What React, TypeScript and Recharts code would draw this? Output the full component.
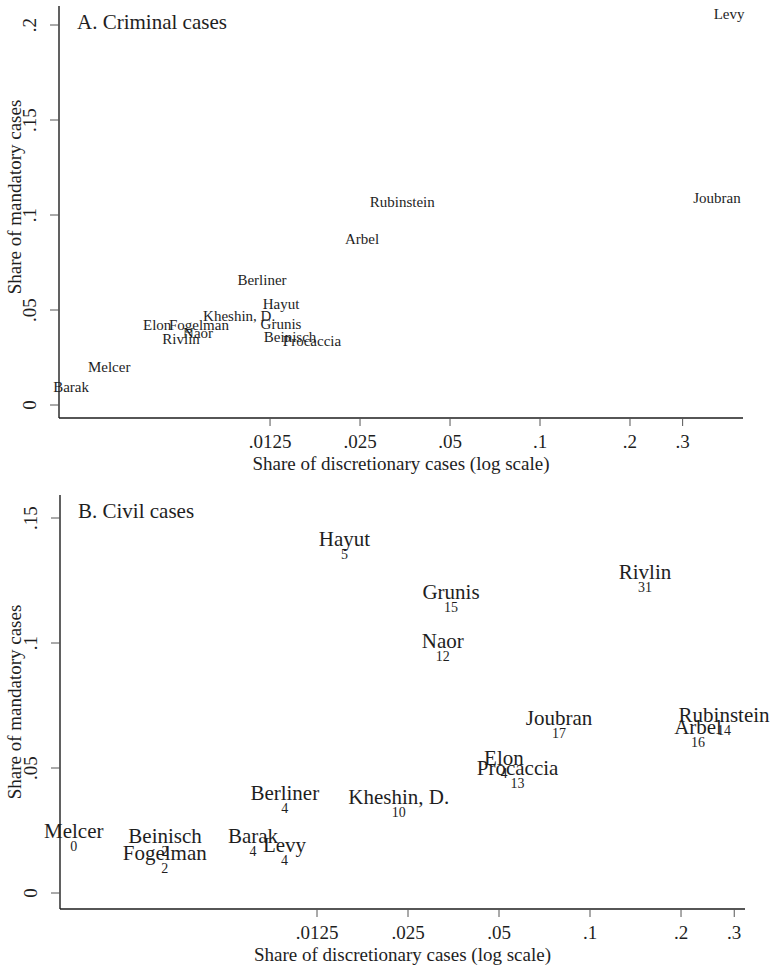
import { ScatterChart, Scatter, XAxis, YAxis, Label } from 'recharts';

// Panel A: criminal cases
const judgesA = ['Levy', 'Joubran', 'Rubinstein', 'Arbel', 'Berliner', 'Hayut', 'Kheshin, D.', 'Grunis', 'Elon', 'Fogelman', 'Naor', 'Rivlin', 'Beinisch', 'Procaccia', 'Melcer', 'Barak'];
const discA = [0.429, 0.391, 0.0346, 0.0254, 0.01175, 0.0136, 0.00985, 0.0136, 0.00524, 0.00723, 0.00718, 0.0063, 0.01459, 0.01727, 0.00362, 0.0027];
const mandA = [0.2058, 0.109, 0.1068, 0.0874, 0.0658, 0.0532, 0.0468, 0.0426, 0.0421, 0.0421, 0.0379, 0.0347, 0.0358, 0.0337, 0.02, 0.0095];

// Panel B: civil cases (name + number of cases)
const judgesB = ['Hayut', 'Rivlin', 'Grunis', 'Naor', 'Joubran', 'Rubinstein', 'Arbel', 'Elon', 'Procaccia', 'Kheshin, D.', 'Berliner', 'Melcer', 'Beinisch', 'Fogelman', 'Barak', 'Levy'];
const discB = [0.0154, 0.152, 0.0347, 0.0326, 0.079, 0.2776, 0.2277, 0.0519, 0.0576, 0.0233, 0.00978, 0.00196, 0.00393, 0.00392, 0.00768, 0.00976];
const mandB = [0.1416, 0.1284, 0.1204, 0.1008, 0.07, 0.0712, 0.0664, 0.054, 0.05, 0.0384, 0.04, 0.0248, 0.0228, 0.016, 0.0228, 0.0192];
const casesB = [5, 31, 15, 12, 17, 14, 16, 4, 13, 10, 4, 0, 2, 2, 4, 4];

const xTicks = [0.0125, 0.025, 0.05, 0.1, 0.2, 0.3];
const yTicksA = [0, 0.05, 0.1, 0.15, 0.2];
const yTicksB = [0, 0.05, 0.1, 0.15];

const dataA = judgesA.map((name, i) => ({ name, x: discA[i], y: mandA[i] }));
const dataB = judgesB.map((name, i) => ({ name, x: discB[i], y: mandB[i], n: casesB[i] }));

const FONT = '"Liberation Serif", "Times New Roman", serif';
const INK = '#1e1e1e';

const fmt = (v: number) => String(v).replace(/^0\./, '.');

function XTick({ x, y, payload }: any) {
  return (
    <text x={x} y={y} dy={20} textAnchor="middle" fontFamily={FONT} fontSize={19} fill={INK}>
      {fmt(payload.value)}
    </text>
  );
}

function YTick({ x, y, payload }: any) {
  const tx = x - 12;
  return (
    <text x={tx} y={y} transform={`rotate(-90, ${tx}, ${y})`} textAnchor="middle" fontFamily={FONT} fontSize={19} fill={INK}>
      {fmt(payload.value)}
    </text>
  );
}

interface PanelProps {
  data: { name: string; x: number; y: number; n?: number }[];
  title: string;
  height: number;
  top: number;
  margin: { top: number; right: number; left: number; bottom: number };
  yWidth: number;
  xHeight: number;
  xDomain: [number, number];
  yDomain: [number, number];
  yTicks: number[];
  labelSize: number;
  yTitleShift: number;
}

function Panel({ data, title, height, top, margin, yWidth, xHeight, xDomain, yDomain, yTicks, labelSize, yTitleShift }: PanelProps) {
  const renderLabel = (props: any) => {
    const { cx, cy, payload } = props;
    return (
      <g>
        <text x={cx} y={cy} textAnchor="middle" dominantBaseline="central" fontFamily={FONT} fontSize={labelSize} fill={INK}>
          {payload.name}
        </text>
        {payload.n !== undefined && (
          <text x={cx} y={cy + 15} textAnchor="middle" dominantBaseline="central" fontFamily={FONT} fontSize={14} fill={INK}>
            {payload.n}
          </text>
        )}
      </g>
    );
  };

  return (
    <div style={{ position: 'absolute', left: 0, top }}>
      <ScatterChart width={774} height={height} margin={margin}>
        <XAxis
          dataKey="x"
          type="number"
          scale="log"
          domain={xDomain}
          ticks={xTicks}
          tick={<XTick />}
          tickSize={8}
          tickLine={{ stroke: '#555' }}
          axisLine={{ stroke: INK, strokeWidth: 1.4 }}
          height={xHeight}
          interval={0}
        >
          <Label
            content={(p: any) => {
              const vb = p.viewBox;
              return (
                <text x={vb.x + vb.width / 2} y={vb.y + 52} textAnchor="middle" fontFamily={FONT} fontSize={19} fill={INK}>
                  Share of discretionary cases (log scale)
                </text>
              );
            }}
          />
        </XAxis>
        <XAxis xAxisId="top" orientation="top" type="number" scale="log" domain={xDomain} height={0} tick={false} tickLine={false} axisLine={{ stroke: '#777' }} />
        <YAxis
          dataKey="y"
          type="number"
          domain={yDomain}
          ticks={yTicks}
          tick={<YTick />}
          tickSize={9}
          tickLine={{ stroke: '#555' }}
          axisLine={{ stroke: INK, strokeWidth: 1.4 }}
          width={yWidth}
          interval={0}
        >
          <Label
            content={(p: any) => {
              const vb = p.viewBox;
              const cy = vb.y + vb.height / 2 + yTitleShift;
              const tx = 21;
              return (
                <g>
                  <text x={tx} y={cy} transform={`rotate(-90, ${tx}, ${cy})`} textAnchor="middle" fontFamily={FONT} fontSize={19} fill={INK}>
                    Share of mandatory cases
                  </text>
                  <text x={vb.x + vb.width + 18} y={vb.y + 23} fontFamily={FONT} fontSize={21} fill={INK}>
                    {title}
                  </text>
                </g>
              );
            }}
          />
        </YAxis>
        <YAxis yAxisId="right" orientation="right" type="number" domain={yDomain} width={0} tick={false} tickLine={false} axisLine={{ stroke: '#777' }} />
        <Scatter data={data} shape={renderLabel} isAnimationActive={false} />
      </ScatterChart>
    </div>
  );
}

export default function App() {
  return (
    <div style={{ position: 'absolute', left: 0, top: 0, width: 774, height: 965, background: '#fff' }}>
      <Panel
        data={dataA}
        title="A. Criminal cases"
        height={480}
        top={0}
        margin={{ top: 6, right: 31, left: 0, bottom: 0 }}
        yWidth={59}
        xHeight={62}
        xDomain={[0.00246, 0.4776]}
        yDomain={[-0.00684, 0.21]}
        yTicks={yTicksA}
        labelSize={15}
        yTitleShift={-15}
      />
      <Panel
        data={dataB}
        title="B. Civil cases"
        height={485}
        top={480}
        margin={{ top: 15, right: 29, left: 0, bottom: 0 }}
        yWidth={60}
        xHeight={56}
        xDomain={[0.001765, 0.3256]}
        yDomain={[-0.0064, 0.1592]}
        yTicks={yTicksB}
        labelSize={21}
        yTitleShift={0}
      />
    </div>
  );
}
